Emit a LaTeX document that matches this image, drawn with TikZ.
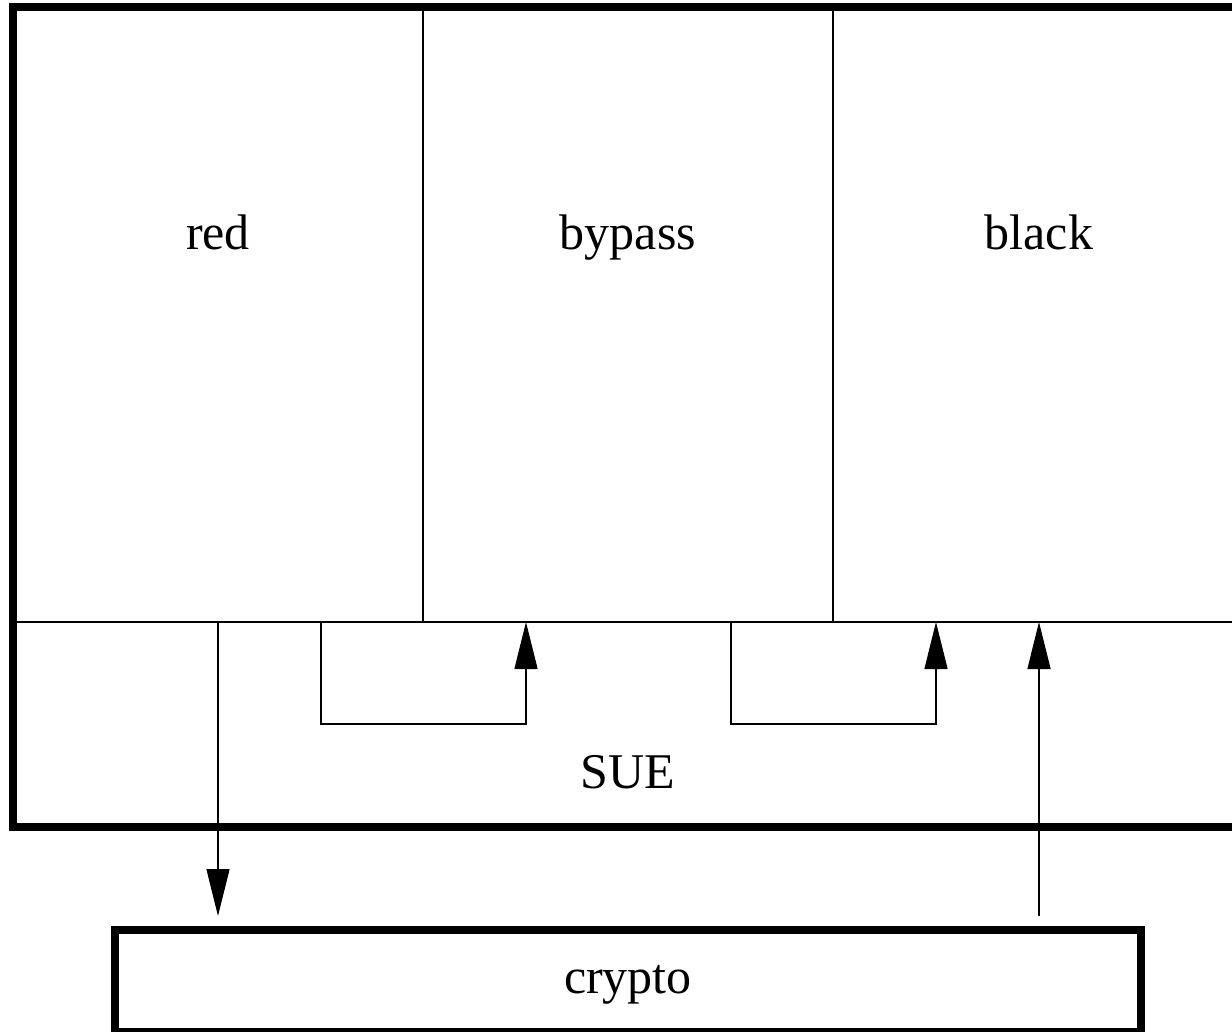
\documentclass[tikz,border=0pt]{standalone}
\usepackage{fontspec}
\setmainfont{Liberation Serif}
\usetikzlibrary{arrows.meta}
\begin{document}
\begin{tikzpicture}[x=1pt,y=-1pt,
  panel/.style={draw, line width=2pt, inner sep=0pt, outer sep=0pt, anchor=north west},
  frame/.style={draw, line width=8pt, inner sep=0pt, outer sep=0pt, anchor=north west},
  lbl/.style={font=\fontsize{50}{60}\selectfont, anchor=base, inner sep=0pt},
  link/.style={line width=1.3pt},
  tip/.style={-{Triangle[length=47pt,width=23pt]}}]
\useasboundingbox (0,0) rectangle (1232,1032);
% panels
\node[panel, minimum width=410pt, minimum height=615pt] (red) at (13,7) {};
\node[panel, minimum width=410pt, minimum height=615pt] (bypass) at (423,7) {};
\node[panel, minimum width=412pt, minimum height=615pt] (black) at (833,7) {};
\node[frame, minimum width=1232pt, minimum height=820pt] (sue) at (13,7) {};
\node[frame, minimum width=1026pt, minimum height=102pt] (crypto) at (115,930) {};
% labels
\node[lbl] (tred) at (218,250) {red};
\node[lbl] (tbypass) at (628,250) {bypass};
\node[lbl] (tblack) at (1039,250) {black};
\node[lbl] (tsue) at (628,788) {SUE};
\node[lbl] (tcrypto) at (628,993) {crypto};
% connector points
\coordinate (l1s) at (321,622);
\coordinate (l1e) at (526,622);
\coordinate (l2s) at (731,622);
\coordinate (l2e) at (936,622);
\coordinate (down) at (218,622);
\coordinate (up) at (1039,622);
% connectors
\draw[link, tip, shorten >=14pt] (down) -- (down |- crypto.north);
\draw[link, tip] (l1s) -- ++(0,102) -| (l1e);
\draw[link, tip] (l2s) -- ++(0,102) -| (l2e);
\draw[link, tip, shorten <=14pt] (up |- crypto.north) -- (up);
\end{tikzpicture}
\end{document}
